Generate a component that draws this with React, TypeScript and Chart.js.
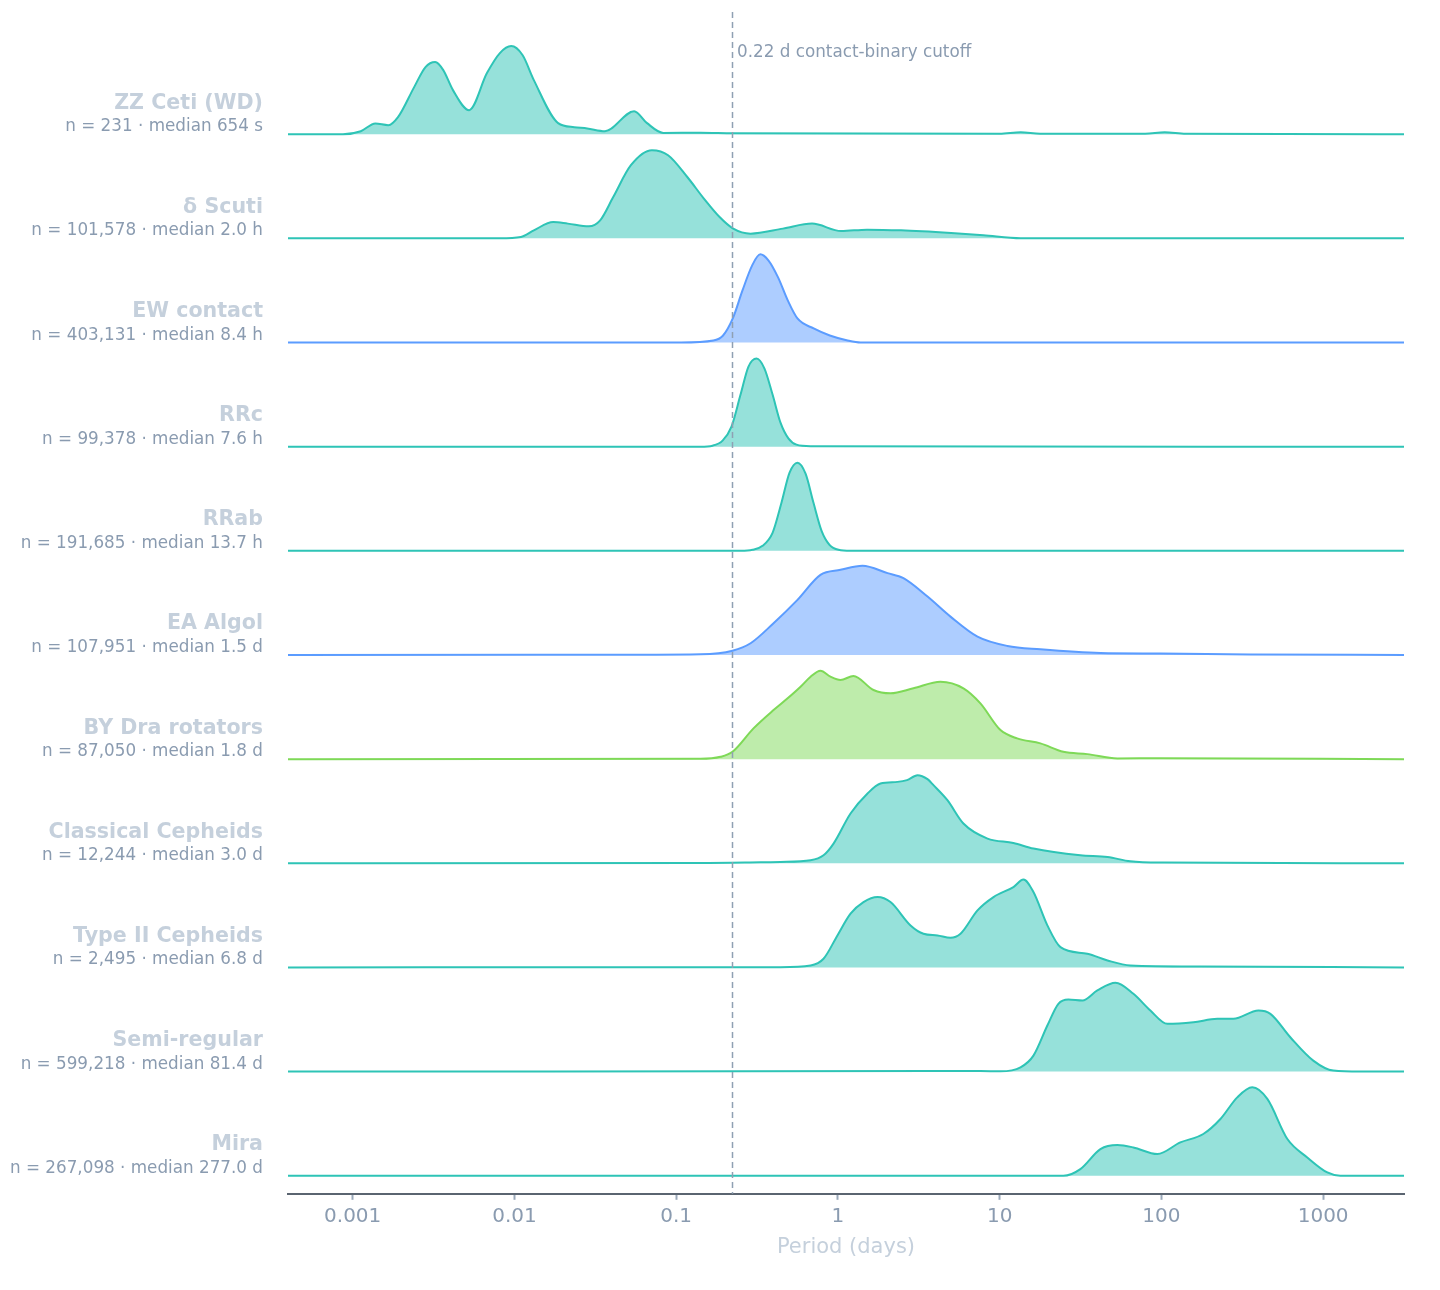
import { useEffect, useRef } from "react";
import { Chart, registerables } from "chart.js";

Chart.register(...registerables);

const FONT = '"DejaVu Sans", "Liberation Sans", sans-serif';

// Variable-star classes, top to bottom
const CLASS_NAMES = [
  "ZZ Ceti (WD)",
  "δ Scuti",
  "EW contact",
  "RRc",
  "RRab",
  "EA Algol",
  "BY Dra rotators",
  "Classical Cepheids",
  "Type II Cepheids",
  "Semi-regular",
  "Mira",
];
const CLASS_COUNTS = [231, 101578, 403131, 99378, 191685, 107951, 87050, 12244, 2495, 599218, 267098];
const CLASS_MEDIANS = ["654 s", "2.0 h", "8.4 h", "7.6 h", "13.7 h", "1.5 d", "1.8 d", "3.0 d", "6.8 d", "81.4 d", "277.0 d"];
const CLASS_KINDS = [
  "pulsator",
  "pulsator",
  "binary",
  "pulsator",
  "pulsator",
  "binary",
  "rotator",
  "pulsator",
  "pulsator",
  "pulsator",
  "pulsator",
];

// Density curves: log10(period / day) and relative density height
const ZZ_LOGP = [-3.4, -3.06, -2.95, -2.86, -2.78, -2.72, -2.62, -2.55, -2.49, -2.44, -2.38, -2.28, -2.17, -2.09, -2.02, -1.95, -1.88, -1.73, -1.63, -1.55, -1.44, -1.26, -1.18, -1.08, -0.85, -0.65, 1.0, 1.13, 1.25, 1.9, 2.02, 2.15, 3.5];
const ZZ_DENS = [0, 0, 3, 10.7, 9, 17, 47, 67, 72, 64, 44, 24, 61, 81, 88, 79, 54, 11, 7, 5.7, 3, 23, 11, 1.3, 1.5, 1, 0.5, 2, 0.5, 0.5, 2, 0.5, 0];

const DSCT_LOGP = [-3.4, -2.09, -1.96, -1.88, -1.76, -1.67, -1.54, -1.47, -1.39, -1.28, -1.15, -1.05, -0.93, -0.83, -0.73, -0.65, -0.54, -0.34, -0.16, 0.02, 0.18, 0.39, 0.7, 0.9, 1.13, 3.5];
const DSCT_DENS = [0, 0, 1.3, 8, 16.3, 14.7, 12, 18, 41, 73, 88, 83, 61, 40, 21, 10, 4.7, 9.7, 14.7, 7.3, 8.7, 8, 5.3, 3, 0, 0];

const EW_LOGP = [-3.4, -0.97, -0.77, -0.71, -0.65, -0.59, -0.53, -0.48, -0.43, -0.37, -0.31, -0.25, -0.15, -0.05, 0.06, 0.14, 3.5];
const EW_DENS = [0, 0, 2, 7, 24, 52, 77, 88, 82, 65, 42, 24, 14, 7, 2, 0, 0];

const RRC_LOGP = [-3.4, -0.85, -0.775, -0.713, -0.658, -0.602, -0.553, -0.503, -0.454, -0.404, -0.355, -0.305, -0.256, -0.169, 3.5];
const RRC_DENS = [0, 0, 1, 6, 20, 52, 80, 88, 78, 52, 24, 8, 2, 0.5, 0];

const RRAB_LOGP = [-3.4, -0.6, -0.528, -0.466, -0.404, -0.349, -0.299, -0.25, -0.2, -0.151, -0.101, -0.052, 0.004, 0.078, 3.5];
const RRAB_DENS = [0, 0, 1, 5, 18, 48, 78, 88, 77, 48, 20, 6, 1, 0, 0];

const EA_LOGP = [-3.4, -1.2, -0.849, -0.652, -0.54, -0.398, -0.25, -0.108, 0.016, 0.152, 0.307, 0.405, 0.554, 0.696, 0.863, 1.048, 1.252, 1.623, 1.994, 2.55, 3.5];
const EA_DENS = [0, 0.3, 0.7, 4.3, 11.7, 31.7, 55, 80, 85, 89, 81.7, 76.7, 58.3, 38.3, 18.3, 9, 5.7, 2, 1.5, 0.5, 0];

const BYDRA_LOGP = [-3.4, -0.849, -0.726, -0.652, -0.522, -0.398, -0.311, -0.231, -0.169, -0.108, -0.046, 0.016, 0.096, 0.22, 0.325, 0.467, 0.634, 0.776, 0.881, 1.005, 1.108, 1.252, 1.394, 1.542, 1.728, 1.994, 3.5];
const BYDRA_DENS = [0, 0.3, 2.3, 7.3, 30.7, 49, 60.7, 72.3, 82.3, 88.3, 82.3, 79, 83, 69, 65.7, 70.7, 77.3, 70.7, 55.7, 29, 20.7, 15.7, 7.3, 5, 0.7, 1, 0];

const DCEP_LOGP = [-3.4, -0.849, -0.478, -0.355, -0.169, -0.089, -0.027, 0.078, 0.183, 0.263, 0.368, 0.427, 0.492, 0.554, 0.591, 0.677, 0.776, 0.925, 1.085, 1.209, 1.499, 1.667, 1.808, 2.012, 3.5];
const DCEP_DENS = [0, 0.3, 1, 1.3, 3, 8, 19.7, 49.7, 69.7, 79.7, 81.3, 83, 88, 84, 78, 63, 39.7, 24.7, 20.3, 14.7, 8, 6.3, 2, 0.7, 0];

const T2CEP_LOGP = [-3.4, -0.849, -0.355, -0.169, -0.089, -0.003, 0.078, 0.158, 0.245, 0.325, 0.449, 0.529, 0.616, 0.696, 0.758, 0.863, 0.962, 1.085, 1.147, 1.209, 1.295, 1.376, 1.542, 1.667, 1.808, 2.241, 3.5];
const T2CEP_DENS = [0, 0.3, 0.3, 2, 8.7, 32, 53.7, 65.3, 70.3, 65.3, 42, 33.7, 32, 29.7, 33.7, 57, 70.3, 80.3, 87.7, 75.3, 42, 20.3, 13.7, 7, 2, 1, 0];

const SR_LOGP = [-3.4, 0.881, 1.005, 1.129, 1.209, 1.295, 1.363, 1.425, 1.512, 1.604, 1.716, 1.827, 1.932, 2.037, 2.198, 2.346, 2.445, 2.6, 2.674, 2.797, 2.939, 3.063, 3.23, 3.5];
const SR_DENS = [0, 0.5, 0.3, 4.3, 16, 46, 67.7, 72, 71, 81, 88.7, 77.7, 61, 47.7, 49.3, 52.7, 52.7, 61, 57.7, 34.3, 11, 1, 0, 0];

const MIRA_LOGP = [-3.4, 1.394, 1.499, 1.623, 1.728, 1.827, 1.975, 2.117, 2.259, 2.365, 2.469, 2.562, 2.655, 2.779, 2.902, 3.026, 3.106, 3.5];
const MIRA_DENS = [0, 0, 6.7, 26.7, 30.7, 28.3, 21.7, 33.3, 41.7, 56.7, 78.3, 88.3, 76.7, 36.7, 18.3, 3.3, 0, 0];

const CURVES: [number[], number[]][] = [
  [ZZ_LOGP, ZZ_DENS],
  [DSCT_LOGP, DSCT_DENS],
  [EW_LOGP, EW_DENS],
  [RRC_LOGP, RRC_DENS],
  [RRAB_LOGP, RRAB_DENS],
  [EA_LOGP, EA_DENS],
  [BYDRA_LOGP, BYDRA_DENS],
  [DCEP_LOGP, DCEP_DENS],
  [T2CEP_LOGP, T2CEP_DENS],
  [SR_LOGP, SR_DENS],
  [MIRA_LOGP, MIRA_DENS],
];

const X_TICKS = [0.001, 0.01, 0.1, 1, 10, 100, 1000];
const X_TICK_LABELS = ["0.001", "0.01", "0.1", "1", "10", "100", "1000"];
const X_MIN_LOG = -3.4;
const X_MAX_LOG = 3.5;
const CUTOFF_DAYS = 0.22;
const CUTOFF_LABEL = "0.22 d contact-binary cutoff";
const X_TITLE = "Period (days)";

// Vertical spacing between ridge baselines (in y-scale units)
const ROW_GAP = 104;

const PALETTE: Record<string, { line: string; fill: string }> = {
  pulsator: { line: "#2ec4b6", fill: "rgba(46,196,182,0.5)" },
  binary: { line: "#5b9cff", fill: "rgba(91,156,255,0.5)" },
  rotator: { line: "#7ed957", fill: "rgba(126,217,87,0.5)" },
};

const rowBase = (i: number) => (CLASS_NAMES.length - 1 - i) * ROW_GAP;

const ridgeDecorations = {
  id: "ridgeDecorations",
  afterDatasetsDraw(chart: any) {
    const { ctx, chartArea, scales } = chart;
    const xs = scales.x;
    const ys = scales.y;
    ctx.save();

    // period cutoff marker
    const cx = Math.round(xs.getPixelForValue(CUTOFF_DAYS)) + 0.5;
    ctx.strokeStyle = "#8fa0b3";
    ctx.lineWidth = 1.5;
    ctx.setLineDash([6, 4]);
    ctx.beginPath();
    ctx.moveTo(cx, chartArea.top);
    ctx.lineTo(cx, chartArea.bottom);
    ctx.stroke();
    ctx.setLineDash([]);
    ctx.fillStyle = "#8a9bb0";
    ctx.font = `16.8px ${FONT}`;
    ctx.textAlign = "left";
    ctx.textBaseline = "alphabetic";
    ctx.fillText(CUTOFF_LABEL, cx + 4.5, chartArea.top + 45);

    // class labels on the left of each ridge
    ctx.textAlign = "right";
    const lx = chartArea.left - 25;
    CLASS_NAMES.forEach((name, i) => {
      const by = ys.getPixelForValue(rowBase(i));
      ctx.font = `bold 20.6px ${FONT}`;
      ctx.fillStyle = "#c5d0dc";
      ctx.fillText(name, lx, by - 25.5);
      ctx.font = `16.8px ${FONT}`;
      ctx.fillStyle = "#8a9bb0";
      ctx.fillText(
        `n = ${CLASS_COUNTS[i].toLocaleString("en-US")} · median ${CLASS_MEDIANS[i]}`,
        lx,
        by - 3
      );
    });
    ctx.restore();
  },
};

export default function App() {
  const canvasRef = useRef<HTMLCanvasElement | null>(null);

  useEffect(() => {
    const canvas = canvasRef.current;
    if (!canvas) return;

    const datasets = CURVES.map(([logp, dens], i) => {
      const base = rowBase(i);
      const colors = PALETTE[CLASS_KINDS[i]];
      return {
        label: CLASS_NAMES[i],
        data: logp.map((lp, j) => ({ x: Math.pow(10, lp), y: base + dens[j] })),
        borderColor: colors.line,
        backgroundColor: colors.fill,
        borderWidth: 2,
        pointRadius: 0,
        cubicInterpolationMode: "monotone" as const,
        fill: { value: base },
      };
    });

    const chart = new Chart(canvas, {
      type: "line",
      data: { datasets },
      options: {
        animation: false,
        responsive: false,
        maintainAspectRatio: false,
        devicePixelRatio: 1,
        layout: { padding: { left: 280, right: 28, top: 4, bottom: 18 } },
        plugins: {
          legend: { display: false },
          tooltip: { enabled: false },
        },
        scales: {
          x: {
            type: "logarithmic",
            min: Math.pow(10, X_MIN_LOG),
            max: Math.pow(10, X_MAX_LOG),
            afterBuildTicks: (axis: any) => {
              axis.ticks = X_TICKS.map((v) => ({ value: v }));
            },
            ticks: {
              autoSkip: false,
              maxRotation: 0,
              padding: 5,
              color: "#8a9bb0",
              font: { family: FONT, size: 20 },
              callback: (_v: any, idx: number) => X_TICK_LABELS[idx],
            },
            grid: {
              display: true,
              drawOnChartArea: false,
              drawTicks: true,
              tickLength: 6,
              tickColor: "#9aa9ba",
              tickWidth: 2,
            },
            border: { display: true, color: "#5a6470", width: 2 },
            title: {
              display: true,
              text: X_TITLE,
              color: "#c5d0dc",
              font: { family: FONT, size: 21 },
              padding: { top: 1, bottom: 4 },
            },
          },
          y: {
            type: "linear",
            display: false,
            min: -18,
            max: 1162,
          },
        },
      },
      plugins: [ridgeDecorations],
    } as any);

    return () => chart.destroy();
  }, []);

  return (
    <div style={{ width: 1424, height: 1274 }}>
      <canvas ref={canvasRef} width={1424} height={1274} style={{ display: "block" }} />
    </div>
  );
}
